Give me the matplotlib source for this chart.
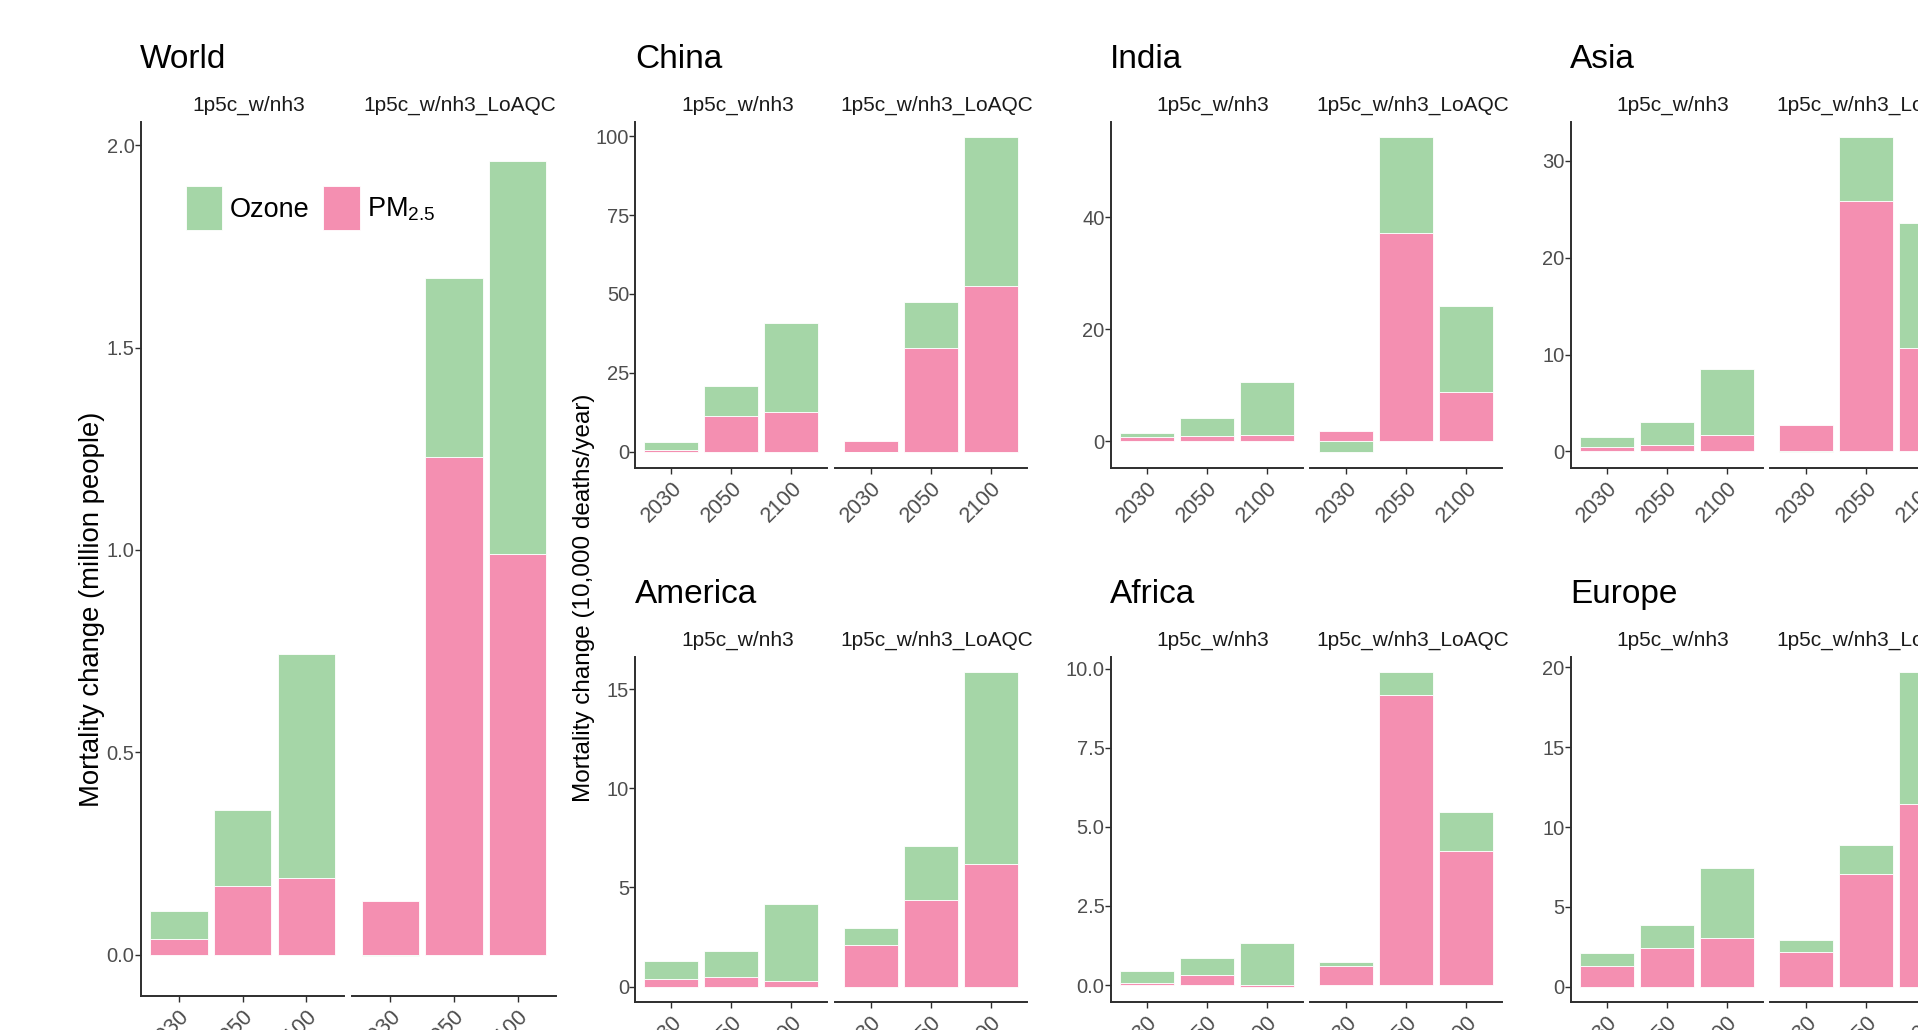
import numpy as np
import matplotlib
matplotlib.use('Agg')
from matplotlib import pyplot as plt
from matplotlib.patches import Patch

plt.rcParams['font.family'] = ['Liberation Sans', 'DejaVu Sans']
plt.rcParams['mathtext.fontset'] = 'custom'
plt.rcParams['mathtext.rm'] = 'Liberation Sans'

# --------------- Mortality change by region, scenario and year ---------------

years = ['2030', '2050', '2100']
scenarios = ['1p5c_w/nh3', '1p5c_w/nh3_LoAQC']

# World, million people (one list per scenario)
world_pm25 = [[0.040, 0.169, 0.189], [0.134, 1.229, 0.990]]
world_ozone = [[0.067, 0.189, 0.554], [-0.003, 0.442, 0.970]]
world_ticks = [0.0, 0.5, 1.0, 1.5, 2.0]
world_ticklabels = ['0.0', '0.5', '1.0', '1.5', '2.0']

# Regions, 10,000 deaths/year
china_pm25 = [[0.54, 11.3, 12.5], [3.5, 32.9, 52.5]]
china_ozone = [[2.62, 9.6, 28.3], [-0.1, 14.6, 47.1]]
china_ticks = [0, 25, 50, 75, 100]

india_pm25 = [[0.77, 0.95, 1.07], [1.78, 37.1, 8.8]]
india_ozone = [[0.71, 3.27, 9.5], [-1.9, 17.1, 15.4]]
india_ticks = [0, 20, 40]

asia_pm25 = [[0.51, 0.69, 1.71], [2.74, 25.8, 10.7]]
asia_ozone = [[0.99, 2.36, 6.76], [-0.05, 6.6, 12.86]]
asia_ticks = [0, 10, 20, 30]

america_pm25 = [[0.39, 0.47, 0.29], [2.11, 4.39, 6.18]]
america_ozone = [[0.90, 1.34, 3.88], [0.86, 2.68, 9.66]]
america_ticks = [0, 5, 10, 15]

africa_pm25 = [[0.07, 0.32, -0.05], [0.60, 9.16, 4.23]]
africa_ozone = [[0.38, 0.52, 1.32], [0.12, 0.73, 1.24]]
africa_ticks = [0.0, 2.5, 5.0, 7.5, 10.0]
africa_ticklabels = ['0.0', '2.5', '5.0', '7.5', '10.0']

europe_pm25 = [[1.31, 2.42, 3.06], [2.19, 7.04, 11.42]]
europe_ozone = [[0.82, 1.44, 4.38], [0.73, 1.86, 8.27]]
europe_ticks = [0, 5, 10, 15, 20]

OZONE = '#A5D6A7'
PM25 = '#F48FB1'
AXIS = '#2e2e2e'

W, H = 1918, 1030
fig = plt.figure(figsize=(W / 100, H / 100), dpi=100)


def px_axes(left, top, right, bottom):
    # axes placed in pixel units measured from the top-left corner
    return fig.add_axes([left / W, 1 - bottom / H, (right - left) / W, (bottom - top) / H])


def px_text(x, y, s, **kw):
    return fig.text(x / W, 1 - y / H, s, **kw)


def draw_region(name, pm25, ozone, ticks, ticklabels, left, top, bottom, facet_w, gap):
    pm25 = np.array(pm25)
    ozone = np.array(ozone)
    oz_bottom = np.where(ozone >= 0, np.maximum(pm25, 0), np.minimum(pm25, 0))
    hi = (np.maximum(pm25, 0) + np.maximum(ozone, 0)).max()
    lo = min(0, (np.minimum(pm25, 0) + np.minimum(ozone, 0)).min())
    pad = 0.05 * (hi - lo)

    x = np.arange(1, len(years) + 1)
    for i, scen in enumerate(scenarios):
        l = left + i * (facet_w + gap)
        ax = px_axes(l, top, l + facet_w, bottom)
        ax.bar(x, pm25[i], width=0.9, color=PM25, edgecolor='white', linewidth=0.6)
        ax.bar(x, ozone[i], bottom=oz_bottom[i], width=0.9, color=OZONE,
               edgecolor='white', linewidth=0.6)
        ax.set_xlim(0.4, 3.6)
        ax.set_ylim(lo - pad, hi + pad)
        ax.set_xticks(x, years, rotation=45, ha='right', va='top', rotation_mode='anchor')
        ax.spines[['top', 'right']].set_visible(False)
        for sp in ('left', 'bottom'):
            ax.spines[sp].set_linewidth(1.4)
            ax.spines[sp].set_color(AXIS)
        ax.tick_params(length=4, width=1.0, color=AXIS, labelsize=14.5,
                       labelcolor='#4d4d4d')
        ax.tick_params(axis='x', pad=3, labelsize=15.5)
        ax.tick_params(axis='y', pad=0.5)
        if i == 0:
            ax.set_yticks(ticks, ticklabels if ticklabels else [str(t) for t in ticks])
        else:
            ax.spines['left'].set_visible(False)
            ax.set_yticks([])
        px_text(l + facet_w / 2 + 6, top - 10.7, scen, ha='center', va='baseline',
                fontsize=15, color='#1a1a1a')
    px_text(left - 0.5, top - 53.4, name, ha='left', va='baseline', fontsize=24)
    return ax


# World panel spans both rows
world_ax = draw_region('World', world_pm25, world_ozone, world_ticks, world_ticklabels,
                       140.8, 121.7, 995.7, 203.6, 7.7)

top_row = (121.7, 467.7)
bottom_row = (656.7, 1002.3)
draw_region('China', china_pm25, china_ozone, china_ticks, None, 635.3, *top_row, 192, 7.6)
draw_region('India', india_pm25, india_ozone, india_ticks, None, 1110.7, *top_row, 192, 7.6)
draw_region('Asia', asia_pm25, asia_ozone, asia_ticks, None, 1570.7, *top_row, 192, 7.6)
draw_region('America', america_pm25, america_ozone, america_ticks, None, 635.3, *bottom_row, 192, 7.6)
draw_region('Africa', africa_pm25, africa_ozone, africa_ticks, africa_ticklabels, 1110.7, *bottom_row, 192, 7.6)
draw_region('Europe', europe_pm25, europe_ozone, europe_ticks, None, 1570.7, *bottom_row, 192, 7.6)

px_text(92, 609, 'Mortality change (million people)', rotation=90,
        ha='center', va='center', fontsize=19.8)
px_text(584, 598, 'Mortality change (10,000 deaths/year)', rotation=90,
        ha='center', va='center', fontsize=17.5)

handles = [Patch(facecolor=OZONE, edgecolor='white', linewidth=0.6),
           Patch(facecolor=PM25, edgecolor='white', linewidth=0.6)]
fig.legend(handles, ['Ozone', r'PM$_\mathregular{2.5}$'], loc='upper left',
           bbox_to_anchor=(185.5 / W, 1 - 186.5 / H), ncol=2, frameon=False,
           fontsize=19.5, handlelength=1.36, handleheight=2.1, handletextpad=0.27,
           columnspacing=0.5, borderpad=0, borderaxespad=0)

plt.savefig('out.png', dpi=100)
